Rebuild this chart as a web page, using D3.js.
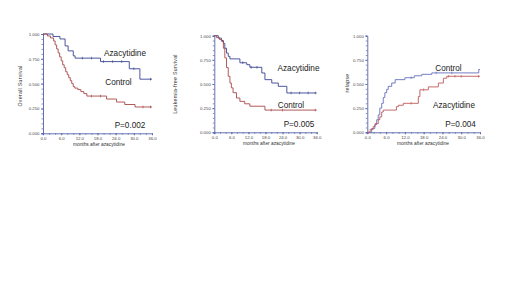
<!DOCTYPE html>
<html><head><meta charset="utf-8">
<script src="https://cdn.jsdelivr.net/npm/d3@7"></script>
<style>
html,body{margin:0;padding:0;background:#fff;}
svg{display:block;font-family:"Liberation Sans",Arial,sans-serif;}
</style></head>
<body>
<svg id="c" width="520" height="292"></svg>
<script>
// ---- data ----
const xTicks = [0, 6, 12, 18, 24, 30, 36];
const yTicks = [0, 0.25, 0.5, 0.75, 1.0];
const xTitle = "months after azacytidine";

// Panel 1: Overall Survival
const osAzaT = [0, 3.3, 5.6, 7.3, 8.3, 10, 10.6, 19, 28.5, 32, 36];
const osAzaV = [1.0, 0.975, 0.95, 0.88, 0.83, 0.78, 0.757, 0.722, 0.65, 0.545, 0.545];
const osCtlT = [0, 1.5, 2.5, 3.5, 4, 4.5, 5, 5.5, 6, 6.5, 7, 7.5, 8, 8.5, 9, 9.5, 10, 10.5, 11.5, 12.5, 13.5, 14.5, 21, 24.3, 27, 30.4, 36];
const osCtlV = [1.0, 0.98, 0.96, 0.93, 0.89, 0.85, 0.81, 0.77, 0.73, 0.69, 0.66, 0.62, 0.59, 0.56, 0.53, 0.5, 0.47, 0.455, 0.44, 0.42, 0.4, 0.375, 0.345, 0.315, 0.29, 0.265, 0.265];

// Panel 2: Leukemia-free Survival
const lfsAzaT = [0, 1.4, 2.5, 3.2, 3.7, 4.3, 4.9, 5.5, 9, 11.4, 12.5, 16.7, 17.8, 20.2, 22.5, 25.5, 36];
const lfsAzaV = [1.0, 0.975, 0.95, 0.92, 0.87, 0.82, 0.786, 0.76, 0.72, 0.70, 0.673, 0.614, 0.545, 0.51, 0.476, 0.407, 0.407];
const lfsCtlT = [0, 0.8, 1.8, 2.6, 3.2, 3.7, 4.3, 4.9, 5.5, 6, 6.6, 7.8, 9, 10.7, 12.5, 17.8, 36];
const lfsCtlV = [1.0, 0.98, 0.96, 0.94, 0.87, 0.77, 0.67, 0.58, 0.51, 0.46, 0.41, 0.355, 0.32, 0.295, 0.27, 0.23, 0.23];

// Panel 3: relapse (cumulative incidence)
const relCtlT = [0, 1.4, 2.4, 3.0, 3.5, 4.0, 4.6, 5.1, 5.6, 6.2, 6.7, 7.8, 8.9, 12, 15, 17.4, 20.6, 35.6, 36];
const relCtlV = [0, 0.04, 0.08, 0.13, 0.18, 0.25, 0.30, 0.36, 0.41, 0.445, 0.476, 0.51, 0.545, 0.565, 0.585, 0.60, 0.615, 0.65, 0.65];
const relAzaT = [0, 0.9, 1.9, 2.5, 3.5, 4.0, 4.6, 5.1, 9.3, 9.9, 11.5, 16.3, 16.8, 19.5, 22.7, 24.3, 25.4, 36];
const relAzaV = [0, 0.03, 0.06, 0.09, 0.13, 0.16, 0.21, 0.23, 0.265, 0.28, 0.30, 0.37, 0.44, 0.47, 0.51, 0.56, 0.58, 0.58];

// censor marks (months)
const osAzaCens = [13, 16, 20, 23, 26, 30, 35.5];
const osCtlCens = [16, 19, 33, 35.5];
const lfsAzaCens = [10, 13, 15, 27, 30, 33, 35.5];
const lfsCtlCens = [20, 24, 35.5];
const relCtlCens = [14, 22, 27];
const relAzaCens = [14, 18, 26, 28, 30, 35.5];

const panels = [
  {x0: 43, x1: 152, yTop: 34, yBot: 133.3, ylab: "Overall Survival", ylabX: 22, ylabY: 86,
   series: [
     {t: osAzaT, v: osAzaV, c: osAzaCens, col: "#3a4592"},
     {t: osCtlT, v: osCtlV, c: osCtlCens, col: "#a84848"}],
   labels: [{s: "Azacytidine", x: 125, y: 56}, {s: "Control", x: 118.5, y: 84.5}, {s: "P=0.002", x: 130, y: 128}],
   xtX: 99, xtY: 146},
  {x0: 214.3, x1: 316.7, yTop: 35.7, yBot: 132.3, ylab: "Leukemia-free Survival", ylabX: 177, ylabY: 84,
   series: [
     {t: lfsAzaT, v: lfsAzaV, c: lfsAzaCens, col: "#3a4592"},
     {t: lfsCtlT, v: lfsCtlV, c: lfsCtlCens, col: "#a84848"}],
   labels: [{s: "Azacytidine", x: 298.5, y: 71}, {s: "Control", x: 291, y: 108}, {s: "P=0.005", x: 299, y: 127}],
   xtX: 269, xtY: 145},
  {x0: 367.3, x1: 480, yTop: 35.7, yBot: 132.3, ylab: "relapse", ylabX: 349, ylabY: 83,
   series: [
     {t: relCtlT, v: relCtlV, c: relCtlCens, col: "#6570bd"},
     {t: relAzaT, v: relAzaV, c: relAzaCens, col: "#c05a5a"}],
   labels: [{s: "Control", x: 448.5, y: 71}, {s: "Azacytidine", x: 454, y: 108}, {s: "P=0.004", x: 460.5, y: 127}],
   xtX: 423, xtY: 145}
];

const svg = d3.select("#c");
const axisCol = "#5561a8";

panels.forEach(p => {
  const x = d3.scaleLinear().domain([0, 36]).range([p.x0, p.x1]);
  const y = d3.scaleLinear().domain([0, 1]).range([p.yBot, p.yTop]);
  const g = svg.append("g");

  // minor ticks
  const xa = g.append("g").attr("transform", `translate(0,${p.yBot})`)
    .call(d3.axisBottom(x).tickValues(d3.range(0, 36.01, 2)).tickSize(1.5).tickFormat(""));
  const ya = g.append("g").attr("transform", `translate(${p.x0},0)`)
    .call(d3.axisLeft(y).tickValues(d3.range(0, 1.001, 0.05)).tickSize(1.5).tickFormat(""));
  [xa, ya].forEach(a => {
    a.select(".domain").attr("stroke", axisCol).attr("stroke-width", 0.9);
    a.selectAll(".tick line").attr("stroke", axisCol).attr("stroke-width", 0.7);
  });
  // major ticks with labels
  const xm = g.append("g").attr("transform", `translate(0,${p.yBot})`)
    .call(d3.axisBottom(x).tickValues(xTicks).tickSize(2).tickPadding(2).tickFormat(d3.format(".1f")));
  const ym = g.append("g").attr("transform", `translate(${p.x0},0)`)
    .call(d3.axisLeft(y).tickValues(yTicks).tickSize(2).tickPadding(1.5).tickFormat(d3.format(".3f")));
  [xm, ym].forEach(a => {
    a.select(".domain").remove();
    a.selectAll(".tick line").attr("stroke", axisCol).attr("stroke-width", 0.8);
    a.selectAll(".tick text").attr("fill", "#444").attr("font-size", 4.3)
      .attr("font-family", "'Liberation Sans',Arial,sans-serif");
  });

  // curves
  p.series.forEach(s => {
    const pts = s.t.map((t, i) => [t, s.v[i]]);
    const line = d3.line().x(d => x(d[0])).y(d => y(d[1])).curve(d3.curveStepAfter);
    g.append("path").attr("d", line(pts)).attr("fill", "none")
      .attr("stroke", s.col).attr("stroke-width", 0.9);
    // censor ticks
    const stepVal = t => { let v = s.v[0]; for (let i = 0; i < s.t.length; i++) if (s.t[i] <= t) v = s.v[i]; return v; };
    g.selectAll(null).data(s.c).enter().append("line")
      .attr("x1", d => x(d)).attr("x2", d => x(d))
      .attr("y1", d => y(stepVal(d)) - 1.3).attr("y2", d => y(stepVal(d)) + 1.3)
      .attr("stroke", s.col).attr("stroke-width", 0.7);
  });

  // labels
  p.labels.forEach(l => {
    g.append("text").attr("x", l.x).attr("y", l.y).attr("text-anchor", "middle")
      .attr("font-size", 8.2).attr("fill", "#222").text(l.s);
  });
  g.append("text").attr("x", p.xtX).attr("y", p.xtY).attr("text-anchor", "middle")
    .attr("font-size", 4.8).attr("fill", "#333").text(xTitle);
  g.append("text").attr("transform", `translate(${p.ylabX},${p.ylabY}) rotate(-90)`)
    .attr("text-anchor", "middle").attr("font-size", 5.2).attr("fill", "#333")
    .attr("letter-spacing", 0.3).text(p.ylab);
});
</script>
</body></html>
